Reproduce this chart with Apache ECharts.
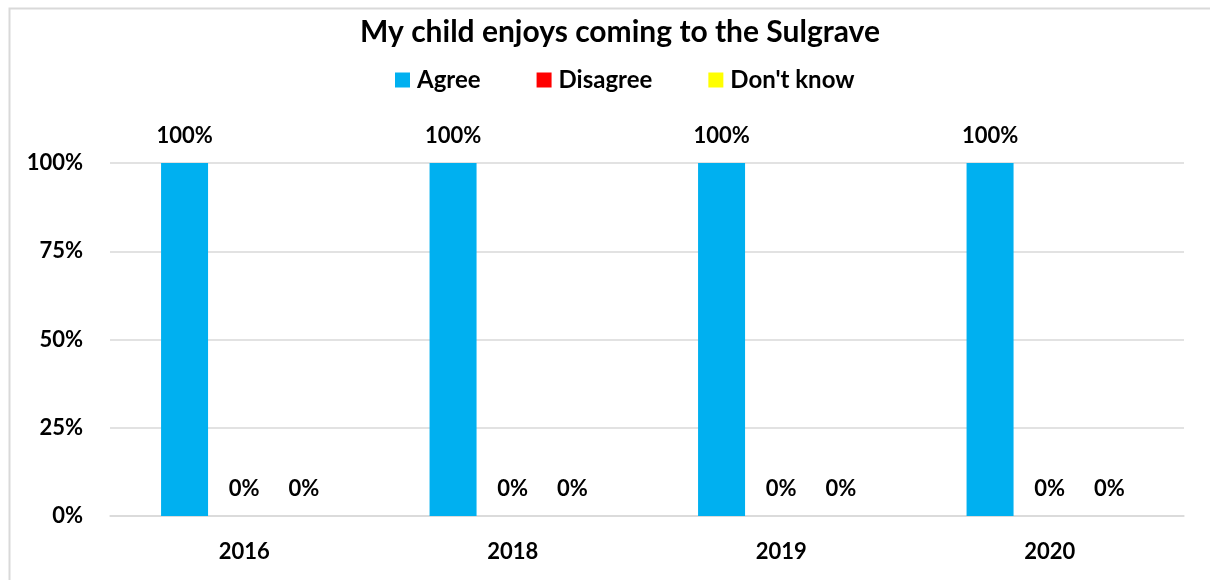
<!DOCTYPE html>
<html>
<head>
<meta charset="utf-8">
<script src="https://cdn.jsdelivr.net/npm/echarts@6/dist/echarts.min.js"></script>
<style>
html,body{margin:0;padding:0;background:#fff;}
#chart{width:1210px;height:580px;}
</style>
</head>
<body>
<div id="chart"></div>
<script>
const categories = ['2016', '2018', '2019', '2020'];
const seriesNames = ['Agree', 'Disagree', "Don't know"];
const agree = [100, 100, 100, 100];
const disagree = [0, 0, 0, 0];
const dontKnow = [0, 0, 0, 0];
const yTicks = [0, 25, 50, 75, 100];

const FONT = 'Lato';
const colors = ['#00B0F0', '#FF0000', '#FFFF00'];
const values = [agree, disagree, dontKnow];

const chart = echarts.init(document.getElementById('chart'), null, {renderer: 'canvas'});
const labelStyle = {
  show: true, position: 'top', distance: 16,
  formatter: p => p.value + '%',
  fontFamily: FONT, fontWeight: 'bold', fontSize: 22, color: '#000'
};
chart.setOption({
  animation: false,
  backgroundColor: '#fff',
  color: colors,
  graphic: [{
    type: 'rect', left: 7, top: 6, z: -10, silent: true,
    shape: {width: 1220, height: 600},
    style: {fill: 'none', stroke: '#d9d9d9', lineWidth: 2}
  }],
  title: {
    text: 'My child enjoys coming to the Sulgrave',
    left: 615, top: 12, textAlign: 'center',
    textStyle: {fontFamily: FONT, fontWeight: 'bold', fontSize: 30, color: '#000'}
  },
  legend: {
    data: seriesNames,
    left: 390, top: 63,
    icon: 'rect', itemWidth: 15, itemHeight: 15, itemGap: 56,
    textStyle: {fontFamily: FONT, fontWeight: 'bold', fontSize: 24, color: '#000', padding: [0, 0, 0, 2]}
  },
  grid: {left: 110, right: 26, top: 163, bottom: 64, containLabel: false},
  xAxis: {
    type: 'category', data: categories,
    axisLine: {lineStyle: {color: '#d9d9d9', width: 1.5}},
    axisTick: {show: false},
    axisLabel: {fontFamily: FONT, fontWeight: 'bold', fontSize: 22, color: '#000', margin: 25}
  },
  yAxis: {
    type: 'value', min: 0, max: 100, interval: 25,
    axisLine: {show: false}, axisTick: {show: false},
    splitLine: {lineStyle: {color: '#d9d9d9', width: 1.5}},
    axisLabel: {
      fontFamily: FONT, fontWeight: 'bold', fontSize: 22, color: '#000', margin: 27,
      formatter: v => yTicks.includes(v) ? v + '%' : ''
    }
  },
  series: seriesNames.map((n, i) => ({
    name: n, type: 'bar', data: values[i],
    barWidth: 47, barGap: '27%',
    itemStyle: {color: colors[i]},
    label: labelStyle
  }))
});
</script>
</body>
</html>
